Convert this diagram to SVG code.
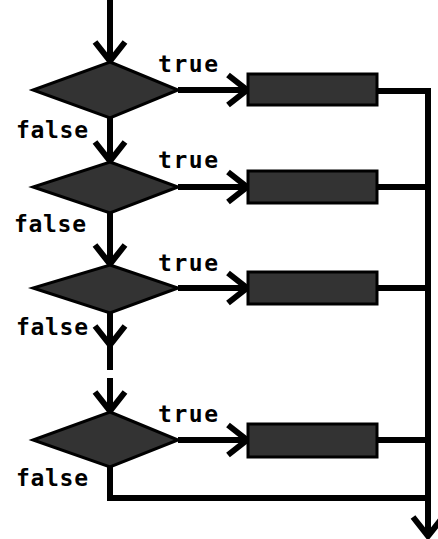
<svg xmlns="http://www.w3.org/2000/svg" width="438" height="539" viewBox="0 0 438 539">
<style>
.ln{fill:none;stroke:#000;stroke-width:6;stroke-linejoin:miter}
.ah{fill:none;stroke:#000;stroke-width:6;stroke-linejoin:miter}
.dia{fill:#333;stroke:#000;stroke-width:3}
.box{fill:#333;stroke:#000;stroke-width:3}
.lbl{font-family:"DejaVu Sans Mono",monospace;font-weight:bold;font-size:23px;fill:#000}
</style>
<defs>
<marker id="arr" viewBox="-24 -20 26 40" markerWidth="26" markerHeight="40" refX="0" refY="0" orient="auto" markerUnits="userSpaceOnUse">
<path d="M-20,-15 L-1,0 L-20,15" fill="none" stroke="#000" stroke-width="6"/>
</marker>
</defs>
<rect width="438" height="539" fill="#fff"/>
<g id="connectors">
<path class="ln" d="M110,0 V62" marker-end="url(#arr)"/>
<path class="ln" d="M110,118 V162" marker-end="url(#arr)"/>
<path class="ln" d="M110,213 V265" marker-end="url(#arr)"/>
<path class="ln" d="M110,313 V370"/>
<path class="ah" d="M95,326 L110,345 L125,326"/>
<path class="ln" d="M110,378 V412" marker-end="url(#arr)"/>
<path class="ln" d="M110,466 V498 H428"/>
<path class="ln" d="M178,90 H248" marker-end="url(#arr)"/>
<path class="ln" d="M178,187 H248" marker-end="url(#arr)"/>
<path class="ln" d="M178,288 H248" marker-end="url(#arr)"/>
<path class="ln" d="M178,440 H248" marker-end="url(#arr)"/>
<path class="ln" d="M377,91 H428"/>
<path class="ln" d="M377,187 H428"/>
<path class="ln" d="M377,288 H428"/>
<path class="ln" d="M377,440 H428"/>
<path class="ln" d="M428,88 V537" marker-end="url(#arr)"/>
</g>
<g id="d1"><polygon class="dia" points="110,62 178,90 110,118 33,90"/></g>
<g id="d2"><polygon class="dia" points="110,162 178,187 110,213 33,187"/></g>
<g id="d3"><polygon class="dia" points="110,265 178,288 110,313 33,288"/></g>
<g id="d4"><polygon class="dia" points="110,412 178,440 110,467 33,440"/></g>
<g id="b1"><rect class="box" x="248" y="74" width="129" height="31"/></g>
<g id="b2"><rect class="box" x="248" y="171" width="129" height="32"/></g>
<g id="b3"><rect class="box" x="248" y="272" width="129" height="32"/></g>
<g id="b4"><rect class="box" x="248" y="424" width="129" height="33"/></g>
<g id="labels">
<text class="lbl" x="158" y="72" textLength="60" lengthAdjust="spacing">true</text>
<text class="lbl" x="158" y="168" textLength="60" lengthAdjust="spacing">true</text>
<text class="lbl" x="158" y="271" textLength="60" lengthAdjust="spacing">true</text>
<text class="lbl" x="158" y="422" textLength="60" lengthAdjust="spacing">true</text>
<text class="lbl" x="16" y="138" textLength="72" lengthAdjust="spacing">false</text>
<text class="lbl" x="14" y="232" textLength="72" lengthAdjust="spacing">false</text>
<text class="lbl" x="16" y="335" textLength="72" lengthAdjust="spacing">false</text>
<text class="lbl" x="16" y="486" textLength="72" lengthAdjust="spacing">false</text>
</g>
</svg>
